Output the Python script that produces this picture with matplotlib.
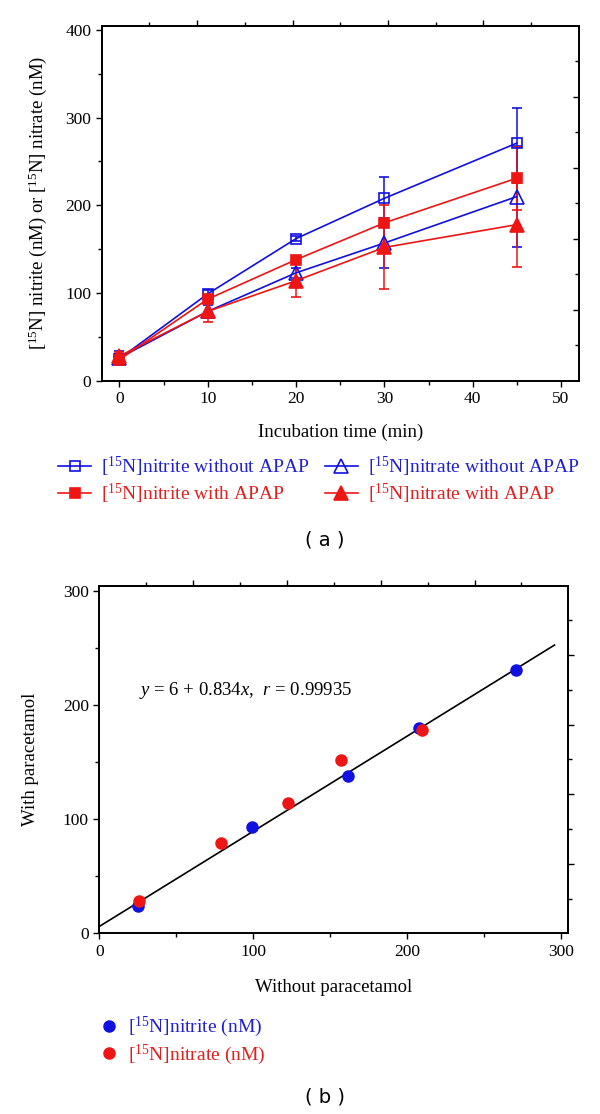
import numpy as np
import matplotlib
matplotlib.use("Agg")
import matplotlib.pyplot as plt
from matplotlib.ticker import MultipleLocator, NullFormatter

plt.rcParams['font.family'] = ['Liberation Serif', 'DejaVu Serif']
plt.rcParams['mathtext.fontset'] = 'custom'
plt.rcParams['mathtext.rm'] = 'Liberation Serif'
plt.rcParams['mathtext.it'] = 'Liberation Serif:italic'

# ---------------- data ----------------
time_min = [0, 10, 20, 30, 45]
nitrite_without = [25, 99, 162, 208, 271]
nitrite_with = [24, 93, 138, 180, 231]
nitrate_without = [26, 79, 123, 157, 210]
nitrate_with = [28, 79, 114, 152, 178]
nitrite_without_err = [5, 4, 3, 24, 40]
nitrite_with_err = [4, 3, 3, 4, 36]
nitrate_without_err = [8, 7, 6, 29, 58]
nitrate_with_err = [5, 12, 19, 48, 48]

labels_a = [r'[$^{15}$N]nitrite without APAP', r'[$^{15}$N]nitrite with APAP',
            r'[$^{15}$N]nitrate without APAP', r'[$^{15}$N]nitrate with APAP']
labels_b = [r'[$^{15}$N]nitrite (nM)', r'[$^{15}$N]nitrate (nM)']
fit_intercept = 6
fit_slope = 0.834
fit_r = 0.99935
fit_xmax = 296

BLUE = '#1010e0'
RED = '#ee1515'
TXT_BLUE = '#2020d0'
TXT_RED = '#e02020'

fig = plt.figure(figsize=(6, 11.14), dpi=100)


def style_axes(ax):
    for s in ax.spines.values():
        s.set_linewidth(1.1)
    ax.tick_params(which='major', direction='out', length=4.5, width=1.0,
                   labelsize=12.5, pad=3)
    ax.tick_params(which='minor', direction='out', length=2.6, width=1.0)
    ax.tick_params(top=False, right=False, which='both')


def add_frame_ticks(ax, right_dir):
    tx = ax.twiny()
    tx.set_xlim(0, 1)
    tx.set_xticks([0.2, 0.4, 0.6, 0.8])
    tx.set_xticks([0.1, 0.3, 0.5, 0.7, 0.9], minor=True)
    tx.xaxis.set_major_formatter(NullFormatter())
    tx.tick_params(which='major', direction='out', length=4.5, width=1.0)
    tx.tick_params(which='minor', direction='out', length=2.6, width=1.0)
    ty = ax.twinx()
    ty.set_ylim(0, 1)
    ty.set_yticks([0.2, 0.4, 0.6, 0.8])
    ty.set_yticks([0.1, 0.3, 0.5, 0.7, 0.9], minor=True)
    ty.yaxis.set_major_formatter(NullFormatter())
    ty.tick_params(which='major', direction=right_dir, length=4.5, width=1.0)
    ty.tick_params(which='minor', direction=right_dir, length=3.0, width=1.0)
    for a in (tx, ty):
        for s in a.spines.values():
            s.set_linewidth(1.1)


# ---------------- panel (a) ----------------
axa = fig.add_axes([0.1695, 0.6583, 0.795, 0.3187])
style_axes(axa)
series = [
    (nitrite_without, nitrite_without_err, 's', BLUE, 'none'),
    (nitrate_without, nitrate_without_err, '^', BLUE, 'none'),
    (nitrite_with, nitrite_with_err, 's', RED, RED),
    (nitrate_with, nitrate_with_err, '^', RED, RED),
]
handles = {}
for i, (vals, err, mk, col, fc) in enumerate(series):
    cont = axa.errorbar(time_min, vals, yerr=err, fmt='-' + mk, color=col,
                        mfc=fc, mec=col, ms=9.5 if mk == '^' else 7.5, mew=1.2,
                        lw=1.2, elinewidth=1.1, capsize=3.8, capthick=1.1)
    handles[i] = cont[0]
axa.set_xlim(-2, 52)
axa.set_ylim(0, 405)
axa.xaxis.set_major_locator(MultipleLocator(10))
axa.xaxis.set_minor_locator(MultipleLocator(5))
axa.yaxis.set_major_locator(MultipleLocator(100))
axa.yaxis.set_minor_locator(MultipleLocator(50))
axa.set_xlabel('Incubation time (min)', fontsize=13.5, labelpad=12)
axa.set_ylabel(r'[$^{15}$N] nitrite (nM) or [$^{15}$N] nitrate (nM)',
               fontsize=13.5, labelpad=12)
add_frame_ticks(axa, 'in')

leg_a = fig.legend([handles[0], handles[2], handles[1], handles[3]], labels_a,
                   ncol=2, loc='upper left', bbox_to_anchor=(0.097, 0.592),
                   frameon=False, fontsize=14, handlelength=1.7,
                   handletextpad=0.5, columnspacing=0.8, labelspacing=0.15,
                   numpoints=1, borderaxespad=0, borderpad=0)
for txt, c in zip(leg_a.get_texts(), [TXT_BLUE, TXT_RED, TXT_BLUE, TXT_RED]):
    txt.set_color(c)

fig.text(0.542, 1 - 540 / 1114, '( a )', ha='center', va='center',
         fontsize=14, family='DejaVu Sans')

# ---------------- panel (b) ----------------
axb = fig.add_axes([0.1655, 0.1622, 0.7817, 0.3121])
style_axes(axb)
xfit = np.array([0, fit_xmax])
axb.plot(xfit, fit_intercept + fit_slope * xfit, color='black', lw=1.2, zorder=2)
hb1, = axb.plot(nitrite_without, nitrite_with, 'o', color=BLUE, ms=8, zorder=3)
hb2, = axb.plot(nitrate_without, nitrate_with, 'o', color=RED, ms=8, zorder=4)
axb.set_xlim(0, 305)
axb.set_ylim(0, 305)
axb.xaxis.set_major_locator(MultipleLocator(100))
axb.xaxis.set_minor_locator(MultipleLocator(50))
axb.yaxis.set_major_locator(MultipleLocator(100))
axb.yaxis.set_minor_locator(MultipleLocator(50))
axb.set_xlabel('Without paracetamol', fontsize=13.5, labelpad=14)
axb.set_ylabel('With paracetamol', fontsize=13.5, labelpad=17)
axb.text(26, 213, r'$y$ = 6 + 0.834$x$,  $r$ = 0.99935', fontsize=13.5,
         va='center', ha='left')
add_frame_ticks(axb, 'out')

leg_b = fig.legend([hb1, hb2], labels_b, loc='upper left',
                   bbox_to_anchor=(0.165, 1 - 1015 / 1114),
                   frameon=False, fontsize=14, handlelength=1.0,
                   handletextpad=0.5, labelspacing=0.15, numpoints=1,
                   borderaxespad=0, borderpad=0)
for txt, c in zip(leg_b.get_texts(), [TXT_BLUE, TXT_RED]):
    txt.set_color(c)

fig.text(0.542, 1 - 1097 / 1114, '( b )', ha='center', va='center',
         fontsize=14, family='DejaVu Sans')

fig.savefig('out.png', dpi=100)
